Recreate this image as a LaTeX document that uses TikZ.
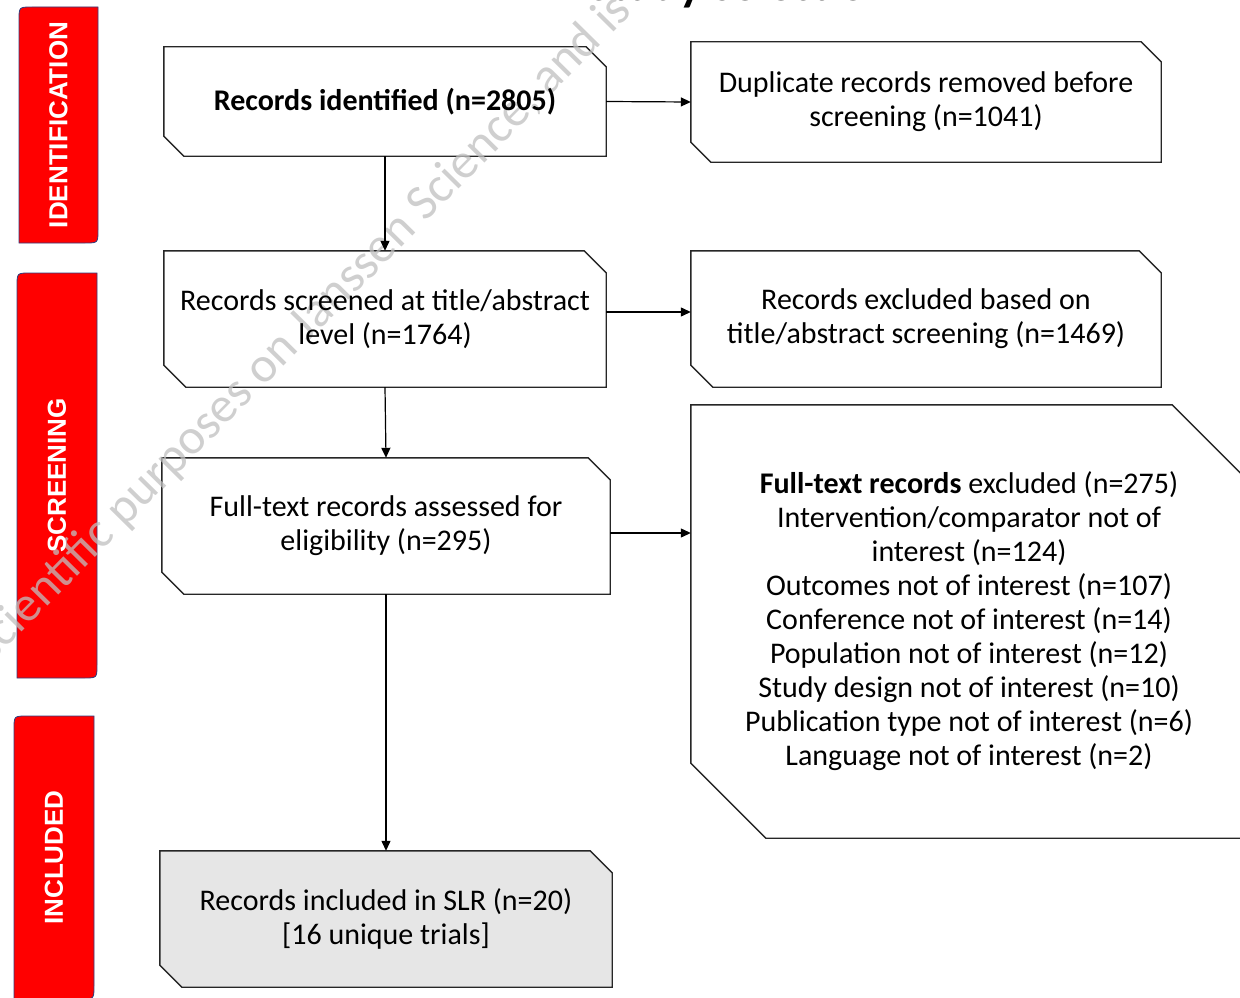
\documentclass[tikz,border=0pt]{standalone}
\usepackage{fontspec}
\setmainfont{Carlito}
\newfontfamily\tabfont{Liberation Sans}
\usetikzlibrary{calc,arrows.meta}
\definecolor{tabred}{HTML}{FF0000}
\definecolor{tabedge}{HTML}{2F3F80}
\definecolor{inclgrey}{HTML}{E6E6E6}
\pgfdeclarelayer{background}
\pgfdeclarelayer{watermark}
\pgfsetlayers{background,watermark,main}
\def\snipframe[#1](#2)(#3){\draw[#1] ($(#2.north east)+(-#3,0)$) -- (#2.north west) -- ($(#2.south west)+(0,#3)$) -- ($(#2.south west)+(#3,0)$) -- (#2.south east) -- ($(#2.north east)+(0,-#3)$) -- cycle;}
\tikzset{
	flowbox/.style={inner sep=0pt, align=center, font=\fontsize{30}{34}\selectfont},
	frame/.style={line width=1.4pt, draw=black!85},
	flowarrow/.style={line width=1.2pt, -{Triangle[length=10pt,width=9pt]}},
	phasetab/.style={line width=0.8pt, draw=tabedge, fill=tabred},
	tabtext/.style={rotate=90, text=white, font=\tabfont\bfseries\fontsize{26}{30}\selectfont},
	wmtext/.style={text=black!25, opacity=0.75, font=\fontsize{50}{60}\selectfont},
}

\begin{document}
\begin{tikzpicture}[x=1pt,y=-1pt]
		%%%%% START %%%%%
		\useasboundingbox (0,0) rectangle (1240,998);
		
		\node[font=\bfseries\fontsize{48}{58}\selectfont, anchor=base west] (title) at (585,1) {Study selection};
		
		% phase tabs
		\foreach \x/\y/\X/\Y/\name/\label in {19/7/98/243/idtab/IDENTIFICATION, 17/273/97/678/scrtab/SCREENING, 14/716/94/999/inctab/INCLUDED}{
			\begin{pgfonlayer}{background}
				\draw[phasetab] (\X,\y) -- (\x+13,\y) .. controls (\x,\y) .. (\x,\y+13) -- (\x,\Y) -- (\X-13,\Y) .. controls (\X,\Y) .. (\X,\Y-13) -- cycle;
			\end{pgfonlayer}
			\node[tabtext] (\name) at ({(\x+\X)/2},{(\y+\Y)/2}) {\label};
		}
		
		% boxes
		\node[flowbox, minimum width=442pt, minimum height=109pt] (ident) at (385,101.5) {\textbf{Records identified (n=2805)}};
		\node[flowbox, minimum width=470pt, minimum height=120pt] (dup) at (926,102) {Duplicate records removed before\\screening (n=1041)};
		\node[flowbox, minimum width=442pt, minimum height=136pt] (screen) at (385,319) {Records screened at title/abstract\\level (n=1764)};
		\node[flowbox, minimum width=470pt, minimum height=136pt] (excl) at (926,319) {Records excluded based on\\title/abstract screening (n=1469)};
		\node[flowbox, minimum width=448pt, minimum height=136pt] (full) at (386,526) {Full-text records assessed for\\eligibility (n=295)};
		\node[flowbox, minimum width=556pt, minimum height=433pt] (fullex) at (969,621.5) {\textbf{Full-text records} excluded (n=275)\\Intervention/comparator not of\\interest (n=124)\\Outcomes not of interest (n=107)\\Conference not of interest (n=14)\\Population not of interest (n=12)\\Study design not of interest (n=10)\\Publication type not of interest (n=6)\\Language not of interest (n=2)};
		\node[flowbox, minimum width=452pt, minimum height=136pt] (incl) at (386,919) {Records included in SLR (n=20)\\{[}16 unique trials{]}};
		
		\begin{pgfonlayer}{background}
			\snipframe[frame, fill=white](ident)(20pt)
			\snipframe[frame, fill=white](dup)(20pt)
			\snipframe[frame, fill=white](screen)(22pt)
			\snipframe[frame, fill=white](excl)(22pt)
			\snipframe[frame, fill=white](full)(22pt)
			\snipframe[frame, fill=white](fullex)(75pt)
			\snipframe[frame, fill=inclgrey](incl)(22pt)
		\end{pgfonlayer}
		
		% connectors
		\draw[flowarrow] (ident.south) -- (screen.north);
		\draw[flowarrow] (ident.east) -- (dup.west);
		\draw[flowarrow] ($(screen.east)+(0,7pt)$) -- ($(excl.west)+(0,7pt)$);
		\draw[flowarrow] (screen.south) -- (full.north);
		\draw[flowarrow] ($(full.east)+(0,-7pt)$) -- ($(full.east -| fullex.west)+(0,-7pt)$);
		\draw[flowarrow] (full.south) -- (incl.north);
		
		\begin{pgfonlayer}{watermark}
			\node[wmtext, rotate=45.4, anchor=mid east] (wmark) at (634,8) {scientific purposes on Janssen Science, and is};
		\end{pgfonlayer}
		%%%%% END %%%%%
\end{tikzpicture}
\end{document}
